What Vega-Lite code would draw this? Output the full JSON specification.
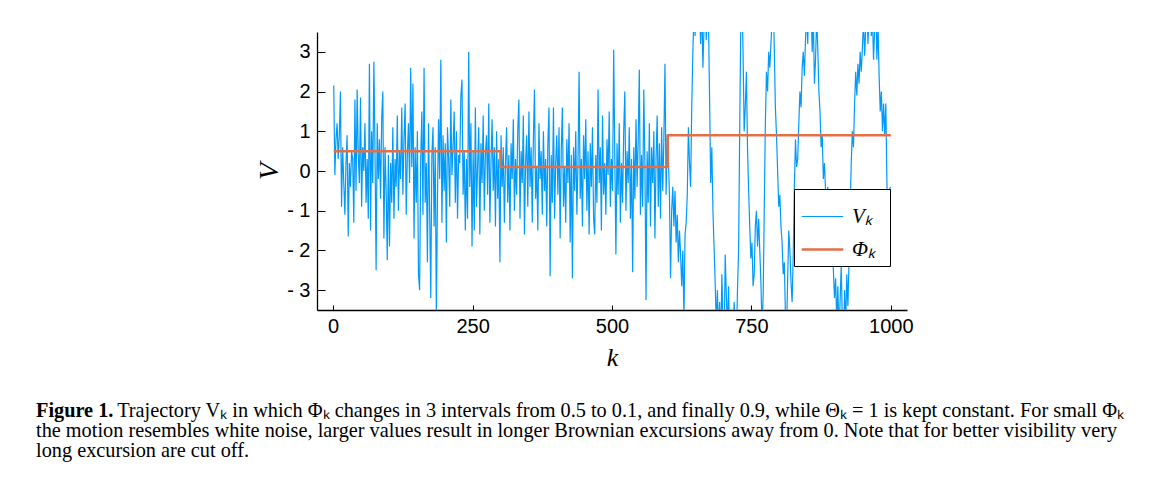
{
"$schema": "https://vega.github.io/schema/vega-lite/v6.json",
"width": 590, "height": 278,
"autosize": {"type": "none"},
"padding": {"left": 317, "top": 32, "right": 264, "bottom": 176},
"background": "white",
"config": {"view": {"stroke": null}},
"title": {
  "text": "Figure 1.",
  "subtitle": ["\u200b\u2003\u2003\u2003\u2003Trajectory Vₖ in which Φₖ changes in 3 intervals from 0.5 to 0.1, and finally 0.9, while Θₖ = 1 is kept constant. For small Φₖ", "the motion resembles white noise, larger values result in longer Brownian excursions away from 0. Note that for better visibility very", "long excursion are cut off."],
  "orient": "bottom", "anchor": "start", "frame": "group", "dx": -281, "offset": 31,
  "font": "Liberation Serif", "fontSize": 20.3, "fontWeight": "bold", "color": "black",
  "subtitleFont": "Liberation Serif", "subtitleFontSize": 20.3, "subtitleColor": "black", "subtitleLineHeight": 20, "subtitlePadding": -20.3
},
"datasets": {
"phi": [{"k":1,"v":0.5},{"k":300,"v":0.1},{"k":600,"v":0.9},{"k":1000,"v":0.9}],
"vk": [
{"k":1,"v":2.15},{"k":3,"v":-0.1},{"k":5,"v":0.8},{"k":7,"v":1.2},{"k":9,"v":0.3},{"k":11,"v":0.9},{"k":13,"v":2.0},{"k":15,"v":-0.9},{"k":17,"v":0.6},{"k":19,"v":-0.3},
{"k":21,"v":-1.1},{"k":23,"v":0.2},{"k":25,"v":0.9},{"k":27,"v":-1.65},{"k":29,"v":0.2},{"k":31,"v":-0.4},{"k":33,"v":0.5},{"k":35,"v":0.3},{"k":37,"v":-1.3},{"k":39,"v":1.8},
{"k":41,"v":-0.5},{"k":43,"v":2.05},{"k":45,"v":0.4},{"k":47,"v":-0.3},{"k":49,"v":1.85},{"k":51,"v":-0.9},{"k":53,"v":0.6},{"k":55,"v":0.0},{"k":57,"v":1.2},{"k":59,"v":-0.8},
{"k":61,"v":0.3},{"k":63,"v":-1.2},{"k":65,"v":2.7},{"k":67,"v":-1.5},{"k":69,"v":1.0},{"k":71,"v":-0.3},{"k":73,"v":2.75},{"k":75,"v":0.5},{"k":77,"v":-2.5},{"k":79,"v":1.2},
{"k":81,"v":-0.2},{"k":83,"v":0.8},{"k":85,"v":-0.7},{"k":87,"v":1.3},{"k":89,"v":2.0},{"k":91,"v":-1.7},{"k":93,"v":0.6},{"k":95,"v":-0.5},{"k":97,"v":-2.25},{"k":99,"v":0.4},
{"k":101,"v":-1.9},{"k":103,"v":0.2},{"k":105,"v":-0.8},{"k":107,"v":1.1},{"k":109,"v":-1.2},{"k":111,"v":0.3},{"k":113,"v":-0.4},{"k":115,"v":1.4},{"k":117,"v":-1.0},{"k":119,"v":0.5},
{"k":121,"v":-0.2},{"k":123,"v":1.6},{"k":125,"v":-0.6},{"k":127,"v":0.8},{"k":129,"v":1.7},{"k":131,"v":-1.1},{"k":133,"v":0.4},{"k":135,"v":1.2},{"k":137,"v":-0.3},{"k":139,"v":2.6},
{"k":141,"v":0.1},{"k":143,"v":2.2},{"k":145,"v":-1.7},{"k":147,"v":0.6},{"k":149,"v":-0.8},{"k":151,"v":1.0},{"k":153,"v":-2.6},{"k":155,"v":-3.0},{"k":157,"v":0.3},{"k":159,"v":1.5},
{"k":161,"v":-1.1},{"k":163,"v":2.6},{"k":165,"v":-0.8},{"k":167,"v":0.2},{"k":169,"v":-2.3},{"k":171,"v":1.2},{"k":173,"v":-1.0},{"k":175,"v":-3.2},{"k":177,"v":0.4},{"k":179,"v":1.1},
{"k":181,"v":-1.4},{"k":183,"v":0.6},{"k":185,"v":-3.6},{"k":187,"v":-0.7},{"k":189,"v":1.3},{"k":191,"v":-0.2},{"k":193,"v":2.8},{"k":195,"v":-1.3},{"k":197,"v":0.9},{"k":199,"v":-0.5},
{"k":201,"v":0.7},{"k":203,"v":-1.8},{"k":205,"v":1.1},{"k":207,"v":0.3},{"k":209,"v":-0.9},{"k":211,"v":1.8},{"k":213,"v":-0.1},{"k":215,"v":0.6},{"k":217,"v":1.5},{"k":219,"v":-0.8},
{"k":221,"v":1.0},{"k":223,"v":-1.2},{"k":225,"v":0.4},{"k":227,"v":0.2},{"k":229,"v":1.9},{"k":231,"v":2.3},{"k":233,"v":-0.6},{"k":235,"v":0.5},{"k":237,"v":-1.5},{"k":239,"v":0.3},
{"k":241,"v":-1.2},{"k":243,"v":3.0},{"k":245,"v":-0.4},{"k":247,"v":1.2},{"k":249,"v":-1.9},{"k":251,"v":0.5},{"k":253,"v":-1.5},{"k":255,"v":1.6},{"k":257,"v":-0.9},{"k":259,"v":0.1},
{"k":261,"v":1.1},{"k":263,"v":-1.6},{"k":265,"v":0.7},{"k":267,"v":-0.3},{"k":269,"v":1.4},{"k":271,"v":-1.0},{"k":273,"v":0.4},{"k":275,"v":0.9},{"k":277,"v":-0.6},{"k":279,"v":1.7},
{"k":281,"v":-1.3},{"k":283,"v":0.2},{"k":285,"v":1.3},{"k":287,"v":-0.5},{"k":289,"v":0.6},{"k":291,"v":-1.4},{"k":293,"v":1.0},{"k":295,"v":-0.7},{"k":297,"v":0.3},{"k":299,"v":-2.3},
{"k":301,"v":0.9},{"k":303,"v":-0.4},{"k":305,"v":0.6},{"k":307,"v":-1.3},{"k":309,"v":0.2},{"k":311,"v":1.1},{"k":313,"v":-0.8},{"k":315,"v":0.4},{"k":317,"v":-1.5},{"k":319,"v":0.7},
{"k":321,"v":-0.2},{"k":323,"v":1.3},{"k":325,"v":-1.0},{"k":327,"v":0.3},{"k":329,"v":-0.6},{"k":331,"v":1.0},{"k":333,"v":1.8},{"k":335,"v":-1.2},{"k":337,"v":0.5},{"k":339,"v":-0.3},
{"k":341,"v":1.4},{"k":343,"v":-1.6},{"k":345,"v":0.2},{"k":347,"v":0.9},{"k":349,"v":-0.9},{"k":351,"v":1.5},{"k":353,"v":-0.4},{"k":355,"v":0.6},{"k":357,"v":-1.3},{"k":359,"v":0.8},
{"k":361,"v":2.05},{"k":363,"v":-0.7},{"k":365,"v":0.1},{"k":367,"v":-1.5},{"k":369,"v":1.2},{"k":371,"v":-0.2},{"k":373,"v":0.5},{"k":375,"v":-1.1},{"k":377,"v":1.0},{"k":379,"v":-0.5},
{"k":381,"v":0.3},{"k":383,"v":-1.4},{"k":385,"v":0.7},{"k":387,"v":1.6},{"k":389,"v":-2.65},{"k":391,"v":0.4},{"k":393,"v":-0.8},{"k":395,"v":1.6},{"k":397,"v":-1.2},{"k":399,"v":0.2},
{"k":401,"v":0.9},{"k":403,"v":-0.6},{"k":405,"v":1.1},{"k":407,"v":-1.7},{"k":409,"v":0.5},{"k":411,"v":1.6},{"k":413,"v":-0.9},{"k":415,"v":0.1},{"k":417,"v":-1.3},{"k":419,"v":0.8},
{"k":421,"v":-0.3},{"k":423,"v":1.2},{"k":425,"v":-1.8},{"k":427,"v":0.4},{"k":429,"v":-2.7},{"k":431,"v":0.6},{"k":433,"v":-0.5},{"k":435,"v":1.0},{"k":437,"v":-1.1},{"k":439,"v":0.2},
{"k":441,"v":2.5},{"k":443,"v":-0.7},{"k":445,"v":0.3},{"k":447,"v":-1.4},{"k":449,"v":0.9},{"k":451,"v":-0.2},{"k":453,"v":1.3},{"k":455,"v":-1.0},{"k":457,"v":0.5},{"k":459,"v":-1.6},
{"k":461,"v":0.7},{"k":463,"v":-0.4},{"k":465,"v":1.1},{"k":467,"v":-1.2},{"k":469,"v":-1.6},{"k":471,"v":0.4},{"k":473,"v":-0.8},{"k":475,"v":2.05},{"k":477,"v":-0.3},{"k":479,"v":0.6},
{"k":481,"v":-1.5},{"k":483,"v":1.4},{"k":485,"v":-0.6},{"k":487,"v":0.2},{"k":489,"v":-1.1},{"k":491,"v":0.8},{"k":493,"v":-0.1},{"k":495,"v":1.5},{"k":497,"v":-0.9},{"k":499,"v":0.3},
{"k":501,"v":-0.5},{"k":503,"v":3.05},{"k":505,"v":0.4},{"k":507,"v":-2.1},{"k":509,"v":0.7},{"k":511,"v":-0.6},{"k":513,"v":1.2},{"k":515,"v":-1.3},{"k":517,"v":0.2},{"k":519,"v":-0.8},
{"k":521,"v":1.0},{"k":523,"v":2.0},{"k":525,"v":-1.0},{"k":527,"v":0.5},{"k":529,"v":-0.3},{"k":531,"v":1.1},{"k":533,"v":-1.2},{"k":535,"v":0.3},{"k":537,"v":-2.55},{"k":539,"v":0.6},
{"k":541,"v":-0.7},{"k":543,"v":1.3},{"k":545,"v":-0.4},{"k":547,"v":0.8},{"k":549,"v":2.55},{"k":551,"v":-1.1},{"k":553,"v":0.4},{"k":555,"v":-0.9},{"k":557,"v":2.05},{"k":559,"v":0.2},
{"k":561,"v":-3.25},{"k":563,"v":0.5},{"k":565,"v":-0.8},{"k":567,"v":1.2},{"k":569,"v":-1.4},{"k":571,"v":0.6},{"k":573,"v":-0.3},{"k":575,"v":1.0},{"k":577,"v":-1.7},{"k":579,"v":0.3},
{"k":581,"v":1.4},{"k":583,"v":-0.9},{"k":585,"v":0.7},{"k":587,"v":-1.2},{"k":589,"v":1.1},{"k":591,"v":-0.5},{"k":593,"v":0.8},{"k":595,"v":2.7},{"k":597,"v":-0.6},{"k":599,"v":0.9},
{"k":601,"v":0.4},{"k":603,"v":-0.6},{"k":605,"v":-2.7},{"k":607,"v":-1.0},{"k":609,"v":-0.4},{"k":611,"v":-1.4},{"k":613,"v":-0.5},{"k":615,"v":-1.8},{"k":617,"v":-1.1},{"k":619,"v":-2.3},
{"k":621,"v":-1.5},{"k":623,"v":-2.1},{"k":625,"v":-2.9},{"k":627,"v":-2.0},{"k":629,"v":-3.7},{"k":631,"v":-1.6},{"k":633,"v":-1.3},{"k":635,"v":-0.6},{"k":637,"v":1.1},{"k":639,"v":0.2},
{"k":641,"v":-0.4},{"k":643,"v":1.6},{"k":645,"v":3.0},{"k":647,"v":4.0},{"k":649,"v":3.4},{"k":651,"v":4.6},{"k":653,"v":3.7},{"k":655,"v":5.2},{"k":657,"v":4.1},{"k":659,"v":3.2},
{"k":661,"v":4.3},{"k":663,"v":2.6},{"k":665,"v":3.6},{"k":667,"v":4.8},{"k":669,"v":3.3},{"k":671,"v":4.5},{"k":673,"v":3.8},{"k":675,"v":1.8},{"k":677,"v":-0.3},{"k":679,"v":0.6},
{"k":681,"v":-1.0},{"k":683,"v":-1.9},{"k":685,"v":-2.8},{"k":687,"v":-3.9},{"k":689,"v":-3.0},{"k":691,"v":-4.2},{"k":693,"v":-3.3},{"k":695,"v":-4.5},{"k":697,"v":-2.6},{"k":699,"v":-3.8},
{"k":701,"v":-4.6},{"k":703,"v":-2.1},{"k":705,"v":-3.1},{"k":707,"v":-4.0},{"k":709,"v":-2.9},{"k":711,"v":-4.4},{"k":713,"v":-5.0},{"k":715,"v":-3.6},{"k":717,"v":-4.3},{"k":719,"v":-3.3},
{"k":721,"v":-3.9},{"k":723,"v":-4.4},{"k":725,"v":-3.0},{"k":727,"v":-2.0},{"k":729,"v":1.0},{"k":731,"v":3.8},{"k":733,"v":4.5},{"k":735,"v":3.0},{"k":737,"v":1.0},{"k":739,"v":1.6},
{"k":741,"v":2.5},{"k":743,"v":0.6},{"k":745,"v":-0.5},{"k":747,"v":-1.4},{"k":749,"v":-2.2},{"k":751,"v":-1.8},{"k":753,"v":-2.9},{"k":755,"v":-2.6},{"k":757,"v":-1.4},{"k":759,"v":-1.0},
{"k":761,"v":-1.9},{"k":763,"v":-1.2},{"k":765,"v":-2.0},{"k":767,"v":-2.8},{"k":769,"v":-3.9},{"k":771,"v":-3.2},{"k":773,"v":-1.0},{"k":775,"v":1.2},{"k":777,"v":2.5},{"k":779,"v":2.0},
{"k":781,"v":3.0},{"k":783,"v":2.6},{"k":785,"v":3.2},{"k":787,"v":3.8},{"k":789,"v":4.4},{"k":791,"v":3.1},{"k":793,"v":1.6},{"k":795,"v":0.9},{"k":797,"v":0.0},{"k":799,"v":-0.9},
{"k":801,"v":-0.6},{"k":803,"v":-1.4},{"k":805,"v":-1.8},{"k":807,"v":-2.6},{"k":809,"v":-2.3},{"k":811,"v":-3.6},{"k":813,"v":-4.1},{"k":815,"v":-2.7},{"k":817,"v":-1.5},{"k":819,"v":-2.0},
{"k":821,"v":-2.8},{"k":823,"v":-3.3},{"k":825,"v":-2.1},{"k":827,"v":-0.4},{"k":829,"v":0.8},{"k":831,"v":0.1},{"k":833,"v":0.3},{"k":835,"v":1.2},{"k":837,"v":2.0},{"k":839,"v":1.6},
{"k":841,"v":2.6},{"k":843,"v":3.0},{"k":845,"v":2.4},{"k":847,"v":3.3},{"k":849,"v":4.0},{"k":851,"v":3.2},{"k":853,"v":4.6},{"k":855,"v":3.7},{"k":857,"v":4.2},{"k":859,"v":3.0},
{"k":861,"v":3.9},{"k":863,"v":2.2},{"k":865,"v":2.8},{"k":867,"v":3.9},{"k":869,"v":3.1},{"k":871,"v":2.0},{"k":873,"v":1.5},{"k":875,"v":0.6},{"k":877,"v":0.9},{"k":879,"v":-0.2},
{"k":881,"v":0.2},{"k":883,"v":-0.5},{"k":885,"v":-0.9},{"k":887,"v":-0.4},{"k":889,"v":-1.3},{"k":891,"v":-1.8},{"k":893,"v":-2.2},{"k":895,"v":-1.6},{"k":897,"v":-2.5},{"k":899,"v":-3.2},
{"k":901,"v":-2.7},{"k":903,"v":-3.8},{"k":905,"v":-2.9},{"k":907,"v":-4.1},{"k":909,"v":-3.3},{"k":911,"v":-2.4},{"k":913,"v":-3.7},{"k":915,"v":-4.6},{"k":917,"v":-3.0},{"k":919,"v":-3.9},
{"k":921,"v":-2.6},{"k":923,"v":-3.4},{"k":925,"v":-2.3},{"k":927,"v":-1.0},{"k":929,"v":0.2},{"k":931,"v":1.0},{"k":933,"v":0.6},{"k":935,"v":1.7},{"k":937,"v":2.5},{"k":939,"v":1.9},
{"k":941,"v":2.7},{"k":943,"v":2.2},{"k":945,"v":3.0},{"k":947,"v":2.5},{"k":949,"v":3.1},{"k":951,"v":3.8},{"k":953,"v":2.9},{"k":955,"v":3.6},{"k":957,"v":4.3},{"k":959,"v":3.2},
{"k":961,"v":4.0},{"k":963,"v":4.7},{"k":965,"v":3.4},{"k":967,"v":3.9},{"k":969,"v":2.8},{"k":971,"v":3.6},{"k":973,"v":4.2},{"k":975,"v":2.8},{"k":977,"v":3.7},{"k":979,"v":2.4},
{"k":981,"v":1.5},{"k":983,"v":2.0},{"k":985,"v":1.0},{"k":987,"v":1.7},{"k":989,"v":0.9},{"k":991,"v":1.7},{"k":993,"v":-0.3},{"k":995,"v":-1.5},{"k":997,"v":-0.6},{"k":999,"v":-0.4}
]
},
"layer": [
  {
    "data": {"name": "vk"},
    "mark": {"type": "line", "clip": true},
    "encoding": {
      "x": {"field": "k", "type": "quantitative", "scale": {"domain": [-29, 1029], "nice": false, "zero": false},
        "axis": {"values": [0, 250, 500, 750, 1000], "format": "d", "title": "k", "grid": false, "tickSize": -5, "labelPadding": 11,
          "labelFont": "Liberation Sans", "labelFontSize": 20, "labelColor": "black", "domainColor": "black", "domainWidth": 1.3, "tickColor": "black",
          "titleFont": "Liberation Serif", "titleFontStyle": "italic", "titleFontWeight": "normal", "titleFontSize": 26, "titleColor": "black", "titlePadding": 8}},
      "y": {"field": "v", "type": "quantitative", "scale": {"domain": [-3.5, 3.5], "nice": false, "zero": false},
        "axis": {"values": [-3, -2, -1, 0, 1, 2, 3], "title": "V", "grid": false, "tickSize": -8, "labelPadding": 15,
          "labelExpr": "datum.value < 0 ? '- ' + abs(datum.value) : datum.label",
          "labelFont": "Liberation Sans", "labelFontSize": 20, "labelColor": "black", "domainColor": "black", "domainWidth": 1.3, "tickColor": "black",
          "titleFont": "Liberation Serif", "titleFontStyle": "italic", "titleFontWeight": "normal", "titleFontSize": 28, "titleColor": "black", "titlePadding": 3}},
      "color": {"datum": "Vₖ", "type": "nominal",
        "scale": {"domain": ["Vₖ", "Φₖ"], "range": ["#009AFA", "#E36F47"]},
        "legend": {"orient": "none", "legendX": 477, "legendY": 157, "title": null, "strokeColor": "black", "fillColor": "white",
          "padding": 6, "symbolType": "stroke", "symbolSize": 1730, "rowPadding": -14, "labelOffset": 7,
          "labelExpr": "datum.label + '\u2009\u2009\u200b'",
          "labelFont": "Liberation Serif", "labelFontStyle": "italic", "labelFontSize": 21, "labelColor": "black"}},
      "strokeWidth": {"datum": "Vₖ", "type": "nominal", "scale": {"type": "point", "padding": 0, "domain": ["Vₖ", "Φₖ"], "range": [1.2, 2.5]}}
    }
  },
  {
    "data": {"name": "phi"},
    "mark": {"type": "line", "clip": true, "interpolate": "step-after"},
    "encoding": {
      "x": {"field": "k", "type": "quantitative"},
      "y": {"field": "v", "type": "quantitative"},
      "color": {"datum": "Φₖ", "type": "nominal"},
      "strokeWidth": {"datum": "Φₖ", "type": "nominal"}
    }
  }
]
}
